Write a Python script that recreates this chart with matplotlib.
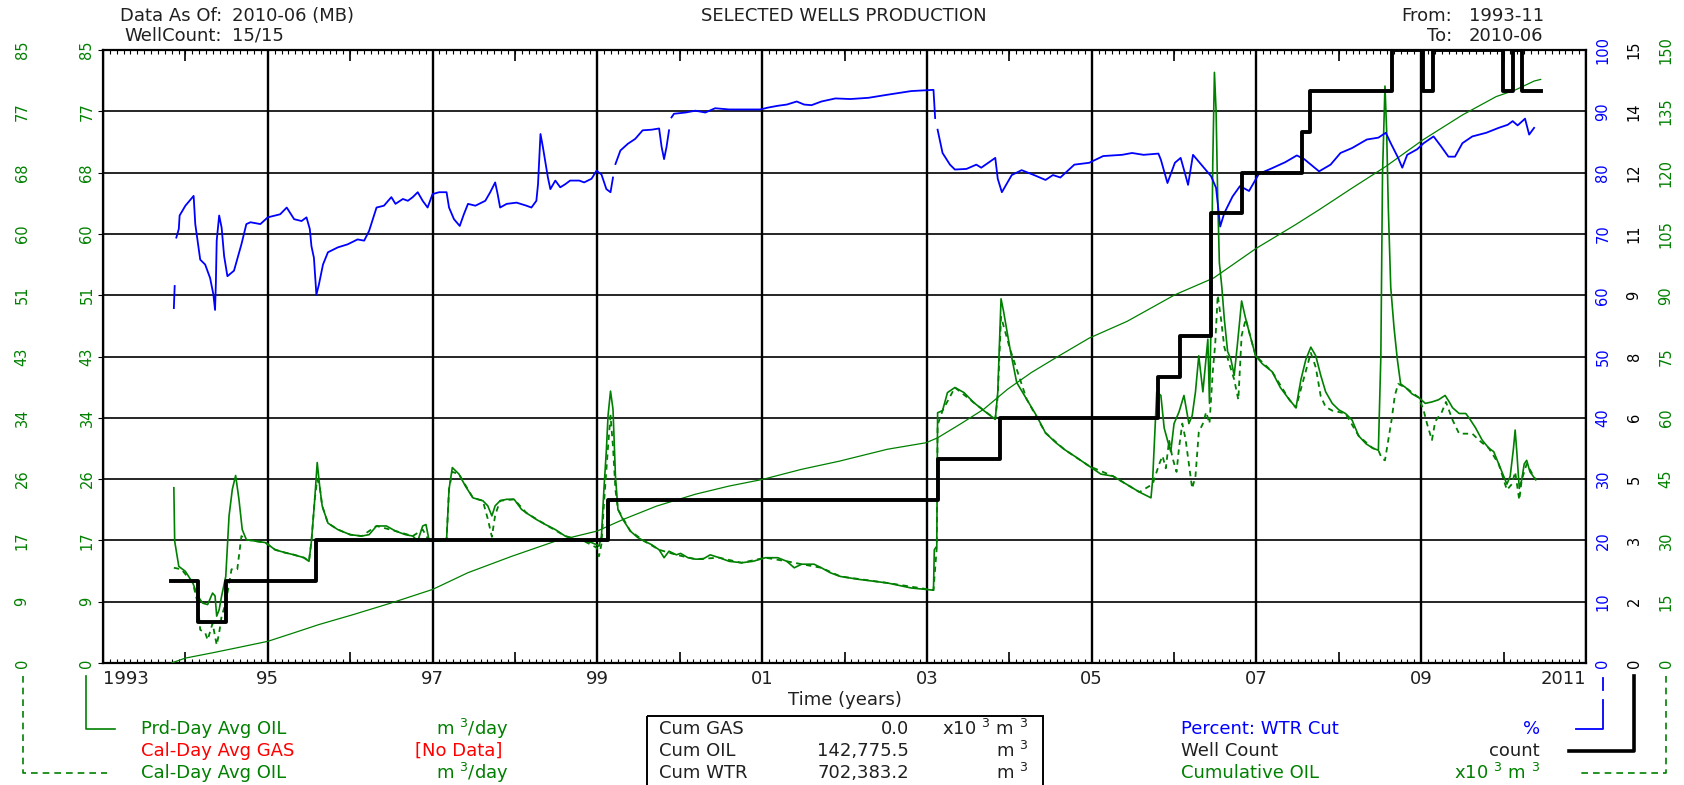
import numpy as np
import matplotlib
matplotlib.use("Agg")
import matplotlib.pyplot as plt
from matplotlib.patches import Rectangle

plt.rcParams['font.family'] = ['DejaVu Sans']

GREEN = '#008000'
BLUE = '#0000ff'
RED = '#ff0000'

# ---- data ----
prd_years = [1993.86, 1993.87, 1993.92, 1994.00, 1994.09, 1994.15, 1994.21, 1994.27, 1994.33, 1994.36,
             1994.38, 1994.41, 1994.44, 1994.49, 1994.53, 1994.57, 1994.61, 1994.65, 1994.69, 1994.74,
             1994.85, 1994.97, 1995.09, 1995.21, 1995.32, 1995.44, 1995.50, 1995.53, 1995.57, 1995.60,
             1995.63, 1995.66, 1995.73, 1995.85, 1996.00, 1996.14, 1996.23, 1996.32, 1996.44, 1996.55,
             1996.67, 1996.76, 1996.82, 1996.88, 1996.92, 1996.96, 1997.08, 1997.17, 1997.20, 1997.24,
             1997.32, 1997.40, 1997.49, 1997.61, 1997.67, 1997.72, 1997.76, 1997.82, 1997.90, 1997.99,
             1998.08, 1998.14, 1998.26, 1998.37, 1998.49, 1998.61, 1998.72, 1998.84, 1998.93, 1998.99,
             1999.02, 1999.05, 1999.08, 1999.11, 1999.13, 1999.16, 1999.19, 1999.22, 1999.25, 1999.31,
             1999.40, 1999.49, 1999.57, 1999.66, 1999.75, 1999.81, 1999.87, 1999.96, 2000.01, 2000.10,
             2000.19, 2000.28, 2000.37, 2000.48, 2000.60, 2000.75, 2000.89, 2001.04, 2001.19, 2001.30,
             2001.39, 2001.48, 2001.63, 2001.72, 2001.83, 2001.95, 2002.17, 2002.52, 2002.81, 2003.08,
             2003.09, 2003.12, 2003.13, 2003.19, 2003.25, 2003.34, 2003.45, 2003.57, 2003.69, 2003.83,
             2003.86, 2003.90, 2003.93, 2004.01, 2004.09, 2004.21, 2004.33, 2004.44, 2004.56, 2004.67,
             2004.79, 2004.97, 2005.11, 2005.26, 2005.42, 2005.58, 2005.72, 2005.74, 2005.76, 2005.79,
             2005.84, 2005.88, 2005.92, 2005.96, 2006.00, 2006.06, 2006.12, 2006.18, 2006.22, 2006.26,
             2006.30, 2006.35, 2006.41, 2006.43, 2006.45, 2006.47, 2006.49, 2006.51, 2006.53, 2006.55,
             2006.58, 2006.61, 2006.65, 2006.69, 2006.73, 2006.77, 2006.82, 2006.87, 2006.93, 2006.99,
             2007.07, 2007.19, 2007.29, 2007.40, 2007.48, 2007.54, 2007.60, 2007.66, 2007.72, 2007.78,
             2007.84, 2007.92, 2008.00, 2008.08, 2008.16, 2008.24, 2008.33, 2008.41, 2008.48, 2008.51,
             2008.53, 2008.56, 2008.58, 2008.60, 2008.63, 2008.67, 2008.71, 2008.75, 2008.81, 2008.89,
             2008.97, 2009.05, 2009.13, 2009.21, 2009.29, 2009.34, 2009.38, 2009.46, 2009.54, 2009.58,
             2009.66, 2009.74, 2009.82, 2009.88, 2009.94, 2010.00, 2010.04, 2010.08, 2010.12, 2010.14,
             2010.16, 2010.19, 2010.22, 2010.25, 2010.28, 2010.32, 2010.39]
prd_oil = [24.3, 16.9, 13.4, 12.7, 11.1, 9.3, 8.3, 8.1, 9.7, 9.3,
           6.5, 7.4, 9.3, 12.0, 20.4, 24.1, 26.0, 22.7, 18.5, 17.1,
           16.9, 16.7, 15.7, 15.3, 15.0, 14.6, 14.1, 16.9, 22.7, 27.8,
           24.5, 21.8, 19.4, 18.5, 17.8, 17.6, 17.8, 19.0, 19.0, 18.3,
           17.8, 17.6, 16.9, 19.0, 19.2, 16.9, 16.9, 17.1, 24.1, 27.1,
           26.2, 24.5, 22.9, 22.5, 21.8, 20.4, 21.8, 22.5, 22.7, 22.7,
           21.3, 20.8, 19.9, 19.2, 18.5, 17.6, 17.2, 16.9, 16.7, 16.4,
           16.2, 17.6, 24.1, 29.6, 34.3, 37.7, 35.2, 25.9, 21.3, 19.9,
           18.3, 17.4, 16.9, 16.4, 15.7, 14.6, 15.5, 15.0, 15.2, 14.6,
           14.4, 14.4, 15.0, 14.6, 14.1, 13.9, 14.1, 14.6, 14.6, 14.1,
           13.2, 13.7, 13.7, 13.2, 12.5, 12.0, 11.6, 11.1, 10.4, 10.1,
           15.7, 16.2, 34.7, 35.0, 37.5, 38.2, 37.5, 36.1, 35.0, 33.8,
           37.5, 50.5, 48.8, 43.5, 38.9, 36.6, 34.3, 31.9, 30.6, 29.6,
           28.7, 27.3, 26.2, 25.9, 24.8, 23.7, 22.9, 25.4, 30.4, 37.6,
           37.1, 32.6, 30.9, 29.3, 33.2, 34.8, 37.1, 33.2, 34.3, 37.6,
           42.6, 37.6, 44.9, 36.0, 47.7, 69.4, 81.9, 76.6, 64.4, 55.5,
           52.1, 47.7, 43.2, 42.1, 39.9, 44.3, 50.2, 47.7, 45.1, 42.6,
           41.5, 40.4, 38.2, 36.5, 35.4, 39.3, 42.1, 43.8, 42.6, 39.9,
           37.6, 36.0, 35.1, 34.6, 33.7, 31.5, 30.4, 29.8, 29.5, 42.6,
           67.7, 80.0, 73.9, 63.3, 52.1, 46.5, 42.1, 38.7, 38.2, 37.3,
           36.8, 36.0, 36.2, 36.5, 37.1, 36.2, 35.4, 34.6, 34.6, 34.0,
           32.6, 30.9, 29.8, 29.3, 27.6, 25.9, 24.8, 25.9, 29.8, 32.3,
           29.3, 24.2, 25.4, 27.6, 28.1, 26.5, 25.4]

cal_years = [1993.86, 1993.95, 1994.09, 1994.15, 1994.18, 1994.24, 1994.27, 1994.33, 1994.38, 1994.41,
             1994.44, 1994.49, 1994.56, 1994.63, 1994.68, 1994.74, 1994.85, 1994.97, 1995.09, 1995.21,
             1995.32, 1995.44, 1995.50, 1995.53, 1995.57, 1995.60, 1995.63, 1995.66, 1995.73, 1995.85,
             1996.00, 1996.14, 1996.32, 1996.55, 1996.76, 1996.88, 1996.96, 1997.17, 1997.20, 1997.24,
             1997.32, 1997.49, 1997.61, 1997.67, 1997.72, 1997.76, 1997.82, 1997.99, 1998.14, 1998.37,
             1998.61, 1998.84, 1998.99, 1999.02, 1999.05, 1999.08, 1999.13, 1999.16, 1999.19, 1999.22,
             1999.25, 1999.40, 1999.57, 1999.75, 1999.96, 2000.19, 2000.48, 2000.75, 2001.04, 2001.30,
             2001.48, 2001.72, 2001.95, 2002.52, 2003.08, 2003.12, 2003.13, 2003.19, 2003.34, 2003.57,
             2003.83, 2003.86, 2003.90, 2004.01, 2004.21, 2004.44, 2004.67, 2004.97, 2005.26, 2005.58,
             2005.74, 2005.82, 2005.86, 2005.90, 2005.94, 2005.98, 2006.03, 2006.06, 2006.10, 2006.14,
             2006.18, 2006.22, 2006.26, 2006.30, 2006.35, 2006.39, 2006.43, 2006.47, 2006.50, 2006.53,
             2006.57, 2006.61, 2006.67, 2006.73, 2006.78, 2006.82, 2006.87, 2006.93, 2006.99, 2007.19,
             2007.40, 2007.48, 2007.54, 2007.60, 2007.66, 2007.72, 2007.78, 2007.84, 2007.92, 2008.08,
             2008.24, 2008.41, 2008.48, 2008.52, 2008.56, 2008.60, 2008.64, 2008.68, 2008.72, 2008.81,
             2008.97, 2009.03, 2009.07, 2009.13, 2009.17, 2009.25, 2009.30, 2009.38, 2009.46, 2009.54,
             2009.62, 2009.70, 2009.82, 2009.94, 2010.04, 2010.10, 2010.14, 2010.19, 2010.22, 2010.28,
             2010.39]
cal_oil = [13.2, 13.0, 11.1, 8.3, 4.6, 4.2, 3.2, 5.5, 2.5, 4.2,
           6.5, 8.3, 13.0, 13.0, 17.6, 17.1, 16.9, 16.7, 15.7, 15.3,
           15.0, 14.6, 14.1, 16.9, 22.7, 25.5, 24.5, 21.8, 19.4, 18.5,
           17.8, 17.6, 19.0, 18.3, 17.6, 18.5, 16.9, 17.1, 24.1, 26.5,
           26.2, 22.9, 22.5, 20.0, 17.5, 20.5, 22.5, 22.7, 20.8, 19.2,
           17.6, 16.9, 16.0, 14.8, 16.5, 22.0, 30.0, 34.3, 30.0, 24.0,
           21.3, 18.3, 16.9, 15.7, 15.0, 14.4, 14.6, 13.9, 14.6, 14.1,
           13.7, 13.2, 12.0, 11.1, 10.1, 16.0, 33.0, 35.0, 38.2, 36.1,
           33.8, 37.0, 48.0, 43.5, 36.6, 31.9, 29.6, 27.3, 25.9, 23.7,
           24.8, 27.6, 28.7, 27.0, 30.9, 28.5, 26.5, 29.8, 33.2, 31.0,
           27.6, 24.2, 25.9, 32.0, 33.2, 34.8, 33.2, 40.4, 44.3, 51.0,
           47.7, 43.8, 41.5, 39.3, 36.5, 45.4, 47.7, 45.1, 42.6, 40.4,
           36.5, 35.4, 38.0, 40.5, 43.0, 41.0, 37.0, 35.5, 35.0, 34.6,
           31.5, 29.8, 29.5, 28.4, 28.1, 30.9, 33.7, 37.1, 38.7, 38.2,
           36.8, 35.0, 33.2, 30.9, 33.5, 34.8, 36.2, 33.7, 31.8, 31.8,
           31.8, 30.9, 29.8, 27.6, 24.0, 24.8, 26.5, 22.6, 25.4, 27.6,
           25.4]

wc_years = [1993.86, 1993.87, 1993.88, 1993.89, 1993.92, 1993.93, 1994.00, 1994.10, 1994.12, 1994.18,
            1994.24, 1994.30, 1994.34, 1994.36, 1994.37, 1994.38, 1994.41, 1994.44, 1994.47, 1994.51,
            1994.59, 1994.68, 1994.74, 1994.79, 1994.91, 1995.00, 1995.15, 1995.23, 1995.32, 1995.41,
            1995.47, 1995.51, 1995.53, 1995.56, 1995.59, 1995.62, 1995.67, 1995.73, 1995.85, 1995.97,
            1996.09, 1996.17, 1996.23, 1996.32, 1996.41, 1996.50, 1996.55, 1996.64, 1996.70, 1996.76,
            1996.82, 1996.88, 1996.94, 1997.00, 1997.08, 1997.17, 1997.20, 1997.26, 1997.33, 1997.38,
            1997.43, 1997.52, 1997.64, 1997.70, 1997.76, 1997.79, 1997.82, 1997.90, 1998.02, 1998.14,
            1998.20, 1998.26, 1998.28, 1998.31, 1998.34, 1998.37, 1998.40, 1998.43, 1998.49, 1998.55,
            1998.61, 1998.67, 1998.78, 1998.84, 1998.93, 1998.99, 1999.05, 1999.11, 1999.16, 1999.19,
            1999.20, 1999.22, 1999.28, 1999.37, 1999.46, 1999.55, 1999.66, 1999.75, 1999.78, 1999.81,
            1999.84, 1999.87, 1999.88, 1999.90, 1999.93, 2000.07, 2000.19, 2000.31, 2000.43, 2000.60,
            2000.78, 2000.98, 2001.07, 2001.19, 2001.30, 2001.42, 2001.51, 2001.60, 2001.72, 2001.89,
            2002.07, 2002.29, 2002.52, 2002.81, 2003.08, 2003.10, 2003.11, 2003.13, 2003.19, 2003.28,
            2003.34, 2003.48, 2003.60, 2003.66, 2003.83, 2003.86, 2003.91, 2004.03, 2004.15, 2004.30,
            2004.44, 2004.53, 2004.62, 2004.79, 2004.97, 2005.14, 2005.37, 2005.49, 2005.63, 2005.81,
            2005.84, 2005.92, 2006.01, 2006.08, 2006.13, 2006.17, 2006.23, 2006.33, 2006.45, 2006.51,
            2006.56, 2006.61, 2006.71, 2006.80, 2006.91, 2007.03, 2007.17, 2007.35, 2007.49, 2007.58,
            2007.67, 2007.76, 2007.90, 2008.02, 2008.16, 2008.34, 2008.48, 2008.57, 2008.63, 2008.72,
            2008.77, 2008.83, 2008.95, 2009.03, 2009.15, 2009.24, 2009.33, 2009.41, 2009.50, 2009.62,
            2009.79, 2009.94, 2010.05, 2010.11, 2010.17, 2010.26, 2010.31, 2010.37]
wc_pct = [57.9, 61.5, np.nan, 69.4, 70.8, 73.0, 74.6, 76.2, 71.6, 65.8,
          65.0, 62.8, 60.1, 57.6, 62.0, 68.9, 73.0, 71.0, 66.4, 63.1,
          64.0, 68.3, 71.6, 71.9, 71.6, 72.7, 73.2, 74.3, 72.4, 72.1,
          72.7, 70.8, 68.0, 66.1, 60.1, 61.7, 65.0, 67.0, 67.8, 68.3,
          69.1, 68.9, 70.5, 74.3, 74.6, 76.0, 74.9, 75.7, 75.4, 76.0,
          76.8, 75.4, 74.3, 76.5, 76.8, 76.8, 74.3, 72.4, 71.3, 73.2,
          74.9, 74.6, 75.4, 76.8, 78.4, 76.5, 74.3, 74.9, 75.1, 74.6,
          74.3, 75.4, 78.1, 86.3, 84.1, 81.7, 79.2, 77.3, 78.7, 77.6,
          78.1, 78.7, 78.7, 78.4, 79.0, 80.3, 79.7, 77.3, 76.8, 79.2,
          np.nan, 81.4, 83.6, 84.7, 85.5, 86.9, 87.0, 87.2, 84.2, 82.2,
          84.2, 86.9, np.nan, 89.0, 89.6, 89.8, 90.1, 89.8, 90.5, 90.3,
          90.3, 90.3, 90.6, 90.9, 91.1, 91.6, 91.1, 91.0, 91.6, 92.1,
          92.0, 92.2, 92.7, 93.3, 93.5, 88.9, np.nan, 87.0, 83.2, 81.3,
          80.5, 80.6, 81.3, 80.8, 82.4, 79.0, 76.8, 79.6, 80.4, 79.6,
          78.8, 79.6, 79.2, 81.3, 81.6, 82.7, 82.9, 83.2, 82.9, 83.1,
          82.1, 78.3, 81.6, 82.4, 80.0, 78.0, 82.9, 81.3, 79.4, 77.5,
          71.2, 73.4, 76.1, 77.8, 77.0, 79.8, 80.6, 81.7, 82.8, 82.2,
          81.2, 80.2, 81.3, 83.2, 84.0, 85.4, 85.7, 86.5, 84.8, 82.4,
          80.8, 82.9, 83.8, 84.8, 85.9, 84.3, 82.6, 82.6, 84.8, 85.9,
          86.5, 87.3, 87.8, 88.4, 87.7, 88.8, 86.2, 87.3]

count_years = [1993.82, 1994.15, 1994.49, 1995.59, 1999.13, 2003.13, 2003.89, 2005.80, 2006.07, 2006.45,
               2006.82, 2007.55, 2007.65, 2008.65, 2009.02, 2009.14, 2009.99, 2010.12, 2010.22, 2010.45]
well_count = [2, 1, 2, 3, 4, 5, 6, 7, 8, 11, 12, 13, 14, 15, 14, 15, 14, 15, 14, 14]

cum_years = [1993.83, 1994.00, 1994.33, 1994.62, 1995.00, 1995.32, 1995.62, 1996.03, 1996.50, 1997.00,
             1997.43, 1997.96, 1998.49, 1999.00, 1999.31, 1999.72, 2000.19, 2000.60, 2001.00, 2001.48,
             2001.94, 2002.52, 2002.99, 2003.13, 2003.40, 2003.69, 2003.98, 2004.27, 2004.59, 2004.97,
             2005.43, 2006.01, 2006.48, 2007.00, 2007.47, 2007.76, 2008.16, 2008.57, 2009.02, 2009.50,
             2009.91, 2010.14, 2010.37, 2010.45]
cum_oil = [0.0, 1.2, 2.5, 3.7, 5.3, 7.4, 9.4, 11.8, 14.7, 18.0,
           22.1, 26.1, 29.8, 32.3, 35.1, 38.4, 41.3, 43.3, 44.9, 47.4,
           49.4, 52.3, 53.9, 55.1, 58.4, 62.1, 67.0, 71.1, 75.0, 79.5,
           83.6, 90.1, 94.2, 101.5, 107.2, 110.9, 116.2, 121.5, 128.0, 134.1,
           138.6, 140.2, 142.4, 142.8]

year_ticks = [1993, 1995, 1997, 1999, 2001, 2003, 2005, 2007, 2009, 2011]
year_labels = ['1993', '95', '97', '99', '01', '03', '05', '07', '09', '2011']
oil_labels = ['0', '9', '17', '26', '34', '43', '51', '60', '68', '77', '85']
wc_labels = ['0', '10', '20', '30', '40', '50', '60', '70', '80', '90', '100']
count_labels = ['0', '2', '3', '5', '6', '8', '9', '11', '12', '14', '15']
cum_labels = ['0', '15', '30', '45', '60', '75', '90', '105', '120', '135', '150']

# ---- figure / axes (pixel layout of the 1684x785 reference) ----
W, H = 1684, 785
fig = plt.figure(figsize=(W / 100, H / 100), dpi=100)
x0, x1, y_top, y_bot = 103, 1586, 50, 663
ax = fig.add_axes([x0 / W, 1 - y_bot / H, (x1 - x0) / W, (y_bot - y_top) / H])

fs = 13
tc = '#202020'

ax.set_xlim(1993, 2011)
ax.set_ylim(0, 85)
ax.set_xticks(year_ticks)
ax.set_xticklabels(year_labels, fontsize=fs)
lbls = ax.get_xticklabels()
lbls[0].set_ha('left')
lbls[-1].set_ha('right')
ax.set_xticks(np.arange(1993, 2011, 1 / 12), minor=True)
ax.set_yticks(np.linspace(0, 85, 11))
ax.tick_params(axis='x', which='major', length=0, pad=5, colors=tc)
ax.tick_params(axis='x', which='minor', direction='in', length=3, width=0.8, top=True, bottom=True)
ax.tick_params(axis='y', left=False, labelleft=False)
ax.grid(axis='x', color='black', lw=1.7)
ax.grid(axis='y', color='black', lw=1.2)
for s in ax.spines.values():
    s.set_linewidth(1.6)
# even-year ticks on top and bottom
even_years = np.arange(1994, 2011, 2)
ax.vlines(even_years, 0, 0.018, transform=ax.get_xaxis_transform(), color='black', lw=1.2)
ax.vlines(even_years, 0.982, 1, transform=ax.get_xaxis_transform(), color='black', lw=1.2)
ax.set_xlabel('Time (years)', fontsize=fs, labelpad=2, color=tc)

ax.plot(prd_years, prd_oil, color=GREEN, lw=1.2)
ax.plot(cal_years, cal_oil, color=GREEN, lw=1.3, ls=(0, (3, 2.5)))


def twin(ymax):
    a = ax.twinx()
    a.set_ylim(0, ymax)
    a.tick_params(axis='y', right=False, labelright=False)
    for s in a.spines.values():
        s.set_visible(False)
    return a


ax_cum = twin(150)
ax_cum.plot(cum_years, cum_oil, color=GREEN, lw=0.9)
ax_wc = twin(100)
ax_wc.plot(wc_years, wc_pct, color=BLUE, lw=1.3)
ax_n = twin(15)
ax_n.step(count_years, well_count, where='post', color='black', lw=2.8)


# rotated tick-label columns
def column(a, ymax, labels, px, color):
    xf = (px - x0) / (x1 - x0)
    for v, s in zip(np.linspace(0, ymax, 11), labels):
        a.text(xf, v, s, transform=a.get_yaxis_transform(), rotation=90, ha='center',
               va='center', fontsize=10.5, color=color, clip_on=False)


column(ax, 85, oil_labels, 22, GREEN)
column(ax, 85, oil_labels, 87, GREEN)
column(ax_wc, 100, wc_labels, 1603, BLUE)
column(ax_n, 15, count_labels, 1634, 'black')
column(ax_cum, 150, cum_labels, 1666, GREEN)

# ---- overlay in pixel coordinates for header / legend ----
ov = fig.add_axes([0, 0, 1, 1])
ov.set_xlim(0, W)
ov.set_ylim(H, 0)
ov.axis('off')

ov.text(222, 16, 'Data As Of:', ha='right', va='center', fontsize=fs, color=tc)
ov.text(232, 16, '2010-06 (MB)', ha='left', va='center', fontsize=fs, color=tc)
ov.text(222, 36, 'WellCount:', ha='right', va='center', fontsize=fs, color=tc)
ov.text(232, 36, '15/15', ha='left', va='center', fontsize=fs, color=tc)
ov.text(844, 16, 'SELECTED WELLS PRODUCTION', ha='center', va='center', fontsize=fs, color=tc)
ov.text(1452, 16, 'From:', ha='right', va='center', fontsize=fs, color=tc)
ov.text(1469, 16, '1993-11', ha='left', va='center', fontsize=fs, color=tc)
ov.text(1452, 36, 'To:', ha='right', va='center', fontsize=fs, color=tc)
ov.text(1469, 36, '2010-06', ha='left', va='center', fontsize=fs, color=tc)

r1, r2, r3 = 729, 751, 773
m3 = r'm $^{3}$'
# left legend
ov.plot([86, 86, 115], [676, r1, r1], color=GREEN, lw=1.2)
ov.plot([23, 23, 107], [676, r3, r3], color=GREEN, lw=1.2, ls=(0, (4, 3)))
ov.text(141, r1, 'Prd-Day Avg OIL', ha='left', va='center', fontsize=fs, color=GREEN)
ov.text(141, r2, 'Cal-Day Avg GAS', ha='left', va='center', fontsize=fs, color=RED)
ov.text(141, r3, 'Cal-Day Avg OIL', ha='left', va='center', fontsize=fs, color=GREEN)
ov.text(509, r1, m3 + '/day', ha='right', va='center', fontsize=fs, color=GREEN)
ov.text(502, r2, '[No Data]', ha='right', va='center', fontsize=fs, color=RED)
ov.text(509, r3, m3 + '/day', ha='right', va='center', fontsize=fs, color=GREEN)

# cumulative box
ov.add_patch(Rectangle((647, 716), 396, 100, fill=False, ec='black', lw=1.4))
ov.text(659, r1, 'Cum GAS', ha='left', va='center', fontsize=fs, color=tc)
ov.text(659, r2, 'Cum OIL', ha='left', va='center', fontsize=fs, color=tc)
ov.text(659, r3, 'Cum WTR', ha='left', va='center', fontsize=fs, color=tc)
ov.text(909, r1, '0.0', ha='right', va='center', fontsize=fs, color=tc)
ov.text(909, r2, '142,775.5', ha='right', va='center', fontsize=fs, color=tc)
ov.text(909, r3, '702,383.2', ha='right', va='center', fontsize=fs, color=tc)
ov.text(1028, r1, r'x10 $^{3}$ ' + m3, ha='right', va='center', fontsize=fs, color=tc)
ov.text(1028, r2, m3, ha='right', va='center', fontsize=fs, color=tc)
ov.text(1028, r3, m3, ha='right', va='center', fontsize=fs, color=tc)

# right legend
ov.plot([1603, 1603], [678, 690], color=BLUE, lw=1.3)
ov.plot([1603, 1603, 1576], [700, r1, r1], color=BLUE, lw=1.3)
ov.plot([1634, 1634, 1569], [676, r2, r2], color='black', lw=2.6)
ov.plot([1666, 1666, 1581], [676, r3, r3], color=GREEN, lw=1.2, ls=(0, (4, 3)))
ov.text(1181, r1, 'Percent: WTR Cut', ha='left', va='center', fontsize=fs, color=BLUE)
ov.text(1181, r2, 'Well Count', ha='left', va='center', fontsize=fs, color=tc)
ov.text(1181, r3, 'Cumulative OIL', ha='left', va='center', fontsize=fs, color=GREEN)
ov.text(1540, r1, '%', ha='right', va='center', fontsize=fs, color=BLUE)
ov.text(1540, r2, 'count', ha='right', va='center', fontsize=fs, color=tc)
ov.text(1540, r3, r'x10 $^{3}$ ' + m3, ha='right', va='center', fontsize=fs, color=GREEN)

fig.savefig('out.png', dpi=100, facecolor='white')
